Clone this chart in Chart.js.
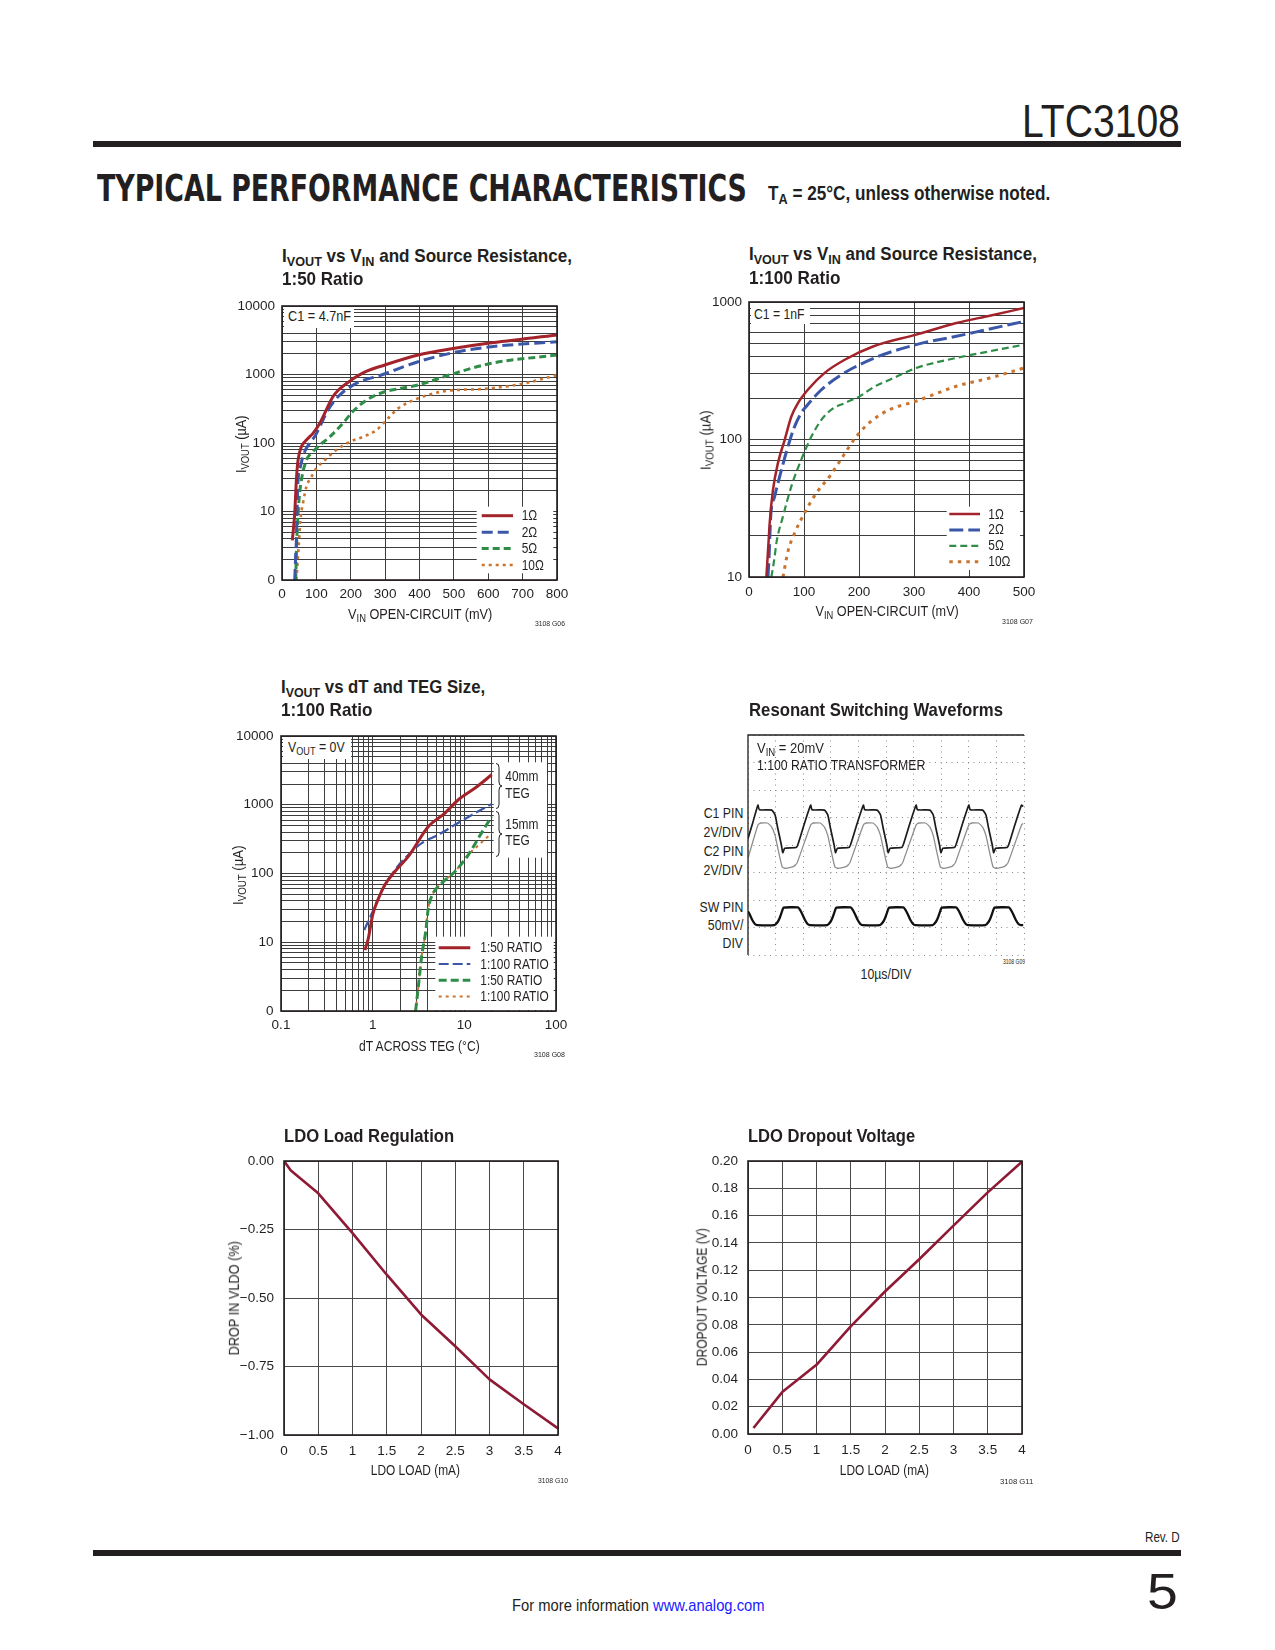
<!DOCTYPE html>
<html>
<head>
<meta charset="utf-8">
<script src="https://cdn.jsdelivr.net/npm/chart.js@4/dist/chart.umd.min.js"></script>
<style>
html,body{margin:0;padding:0;background:#fff;}
#page{position:relative;width:1275px;height:1650px;overflow:hidden;background:#fff;}
.t{position:absolute;white-space:nowrap;line-height:1;color:#231f20;font-family:"Liberation Sans",Arial,Helvetica,sans-serif;}
.t sub{font-size:0.74em;vertical-align:-0.3em;line-height:0;}
canvas{position:absolute;}
.blk{position:absolute;}
</style>
</head>
<body>
<div id="page"></div>
<script>
// ---------------- DATA ----------------
// Chart 1: IVOUT vs VIN and source resistance, 1:50 ratio
const c1Labels = ['1Ω', '2Ω', '5Ω', '10Ω'];
const c1R1Vin  = [30, 37, 41.8, 46.7, 56.4, 66, 78, 90, 110, 148, 165, 197, 240, 299, 396, 502, 599, 800];
const c1R1Iout = [3.8, 9.4, 28.8, 56, 88, 104, 120, 138, 194, 474, 600, 800, 1080, 1376, 1927, 2411, 2852, 3774];
const c1R2Vin  = [37, 39.8, 41.8, 44.6, 46.7, 53.4, 66, 80.6, 98, 114.5, 134, 163, 216, 289, 396, 512, 609, 800];
const c1R2Iout = [1, 2.3, 3.8, 15.6, 28.8, 45, 74.6, 99, 131, 194, 303, 474, 743, 984, 1538, 2154, 2546, 3015];
const c1R5Vin  = [39.8, 43, 49.5, 56.4, 71, 90, 110, 139, 177, 206, 245, 299, 342, 396, 502, 609, 800];
const c1R5Iout = [1, 3.8, 14.7, 28.8, 56, 75, 93, 123, 194, 288, 420, 560, 620, 703, 1040, 1456, 1927];
const c1R10Vin  = [41.8, 48.6, 53.4, 61, 71, 85.5, 100, 124, 158, 197, 236, 275, 313, 338, 396, 464, 609, 706, 800];
const c1R10Iout = [1, 3.1, 7.5, 13.2, 23, 32, 42.6, 56, 79, 104, 123, 155, 242, 320, 449, 561, 629, 743, 984];
const c1XTicks = [0, 100, 200, 300, 400, 500, 600, 700, 800];
const c1XTickLabels = ['0', '100', '200', '300', '400', '500', '600', '700', '800'];
const c1YTicks = [1, 10, 100, 1000, 10000];
const c1YTickLabels = ['0', '10', '100', '1000', '10000'];

// Chart 2: IVOUT vs VIN and source resistance, 1:100 ratio
const c2Labels = ['1Ω', '2Ω', '5Ω', '10Ω'];
const c2R1Vin  = [31.6, 35.8, 37.6, 43.6, 52.7, 64.9, 77, 89, 107, 137.6, 174, 225.5, 304, 377, 437.6, 500];
const c2R1Iout = [10, 18.7, 24.7, 43, 67.6, 99.5, 147, 184, 230, 305, 380, 475, 579, 703, 795, 903];
const c2R2Vin  = [34.5, 36.5, 39.5, 46.7, 58.9, 70.9, 83, 95, 104, 131.6, 168, 228.5, 304, 377, 437.6, 500];
const c2R2Iout = [10, 14, 27.6, 38.5, 60, 89, 124.5, 156, 174, 230, 296, 392, 490, 563, 637, 722];
const c2R5Vin  = [40.7, 46.7, 49.8, 61.8, 77, 95, 113.5, 131.6, 149.8, 174, 201, 228.5, 255.8, 304, 377, 437.6, 500];
const c2R5Iout = [10, 14.1, 17.7, 27.6, 45.6, 71.3, 105, 139, 165, 184, 206, 243, 272, 331, 392, 438, 490];
const c2R10Vin  = [61.8, 70.9, 83, 101, 122.4, 146.7, 170.9, 195, 222.4, 255.8, 304, 377, 437.6, 500];
const c2R10Iout = [10, 15.4, 20.9, 29.2, 40.8, 54, 75.5, 105, 136, 165, 190, 244, 280, 331];
const c2XTicks = [0, 100, 200, 300, 400, 500];
const c2XTickLabels = ['0', '100', '200', '300', '400', '500'];
const c2YTicks = [10, 100, 1000];
const c2YTickLabels = ['10', '100', '1000'];

// Chart 3: IVOUT vs dT and TEG size
const c3Labels = ['1:50 RATIO', '1:100 RATIO', '1:50 RATIO', '1:100 RATIO'];
const c3A50dT   = [0.824, 0.897, 1, 1.16, 1.36, 1.75, 2.45, 4.05, 6.15, 8.6, 13.1, 19.9];
const c3A50I    = [7.7, 11.4, 25, 43.7, 68.4, 107, 177, 483, 756, 1183, 1750, 2734];
const c3A100dT  = [0.81, 1, 1.25, 1.75, 2.45, 3.43, 5.2, 7.9, 13.1, 19.9];
const c3A100I   = [15.1, 28, 54.7, 113, 187, 277, 366, 511, 756, 1023];
const c3B50dT   = [2.94, 3.15, 3.42, 3.79, 4.05, 4.48, 5.66, 7.91, 11.06, 14.8, 19.9];
const c3B50I    = [1, 2.26, 6.2, 14.3, 31.3, 48.9, 72.3, 107, 187, 357, 676];
const c3B100dT  = [2.94, 3.15, 3.42, 3.79, 4.05, 4.48, 5.66, 7.91, 11.06, 14.8, 19.9];
const c3B100I   = [1, 2.26, 6.2, 14.3, 31.3, 48.9, 72.3, 107, 187, 270, 387];
const c3XTicks = [0.1, 1, 10, 100];
const c3XTickLabels = ['0.1', '1', '10', '100'];
const c3YTicks = [1, 10, 100, 1000, 10000];
const c3YTickLabels = ['0', '10', '100', '1000', '10000'];

// Chart 4: resonant switching waveforms (time in divisions, level in divisions)
const c4C1Time = [0, 0.17,
  0.36, 0.41, 0.86, 0.98, 1.08, 1.21, 1.26, 1.33, 1.76, 1.86, 2.05,
  2.27, 2.32, 2.77, 2.89, 2.99, 3.12, 3.17, 3.24, 3.67, 3.77, 3.96,
  4.18, 4.23, 4.68, 4.80, 4.90, 5.03, 5.08, 5.15, 5.58, 5.68, 5.87,
  6.09, 6.14, 6.59, 6.71, 6.81, 6.94, 6.99, 7.06, 7.49, 7.59, 7.78,
  8.00, 8.05, 8.50, 8.62, 8.72, 8.85, 8.90, 8.97, 9.40, 9.50, 9.69,
  9.91, 9.97];
const c4C1Div = [4.24, 4.80,
  5.45, 5.28, 5.27, 5.10, 4.60, 4.00, 3.72, 3.88, 3.92, 4.18, 4.80,
  5.45, 5.28, 5.27, 5.10, 4.60, 4.00, 3.72, 3.88, 3.92, 4.18, 4.80,
  5.45, 5.28, 5.27, 5.10, 4.60, 4.00, 3.72, 3.88, 3.92, 4.18, 4.80,
  5.45, 5.28, 5.27, 5.10, 4.60, 4.00, 3.72, 3.88, 3.92, 4.18, 4.80,
  5.45, 5.28, 5.27, 5.10, 4.60, 4.00, 3.72, 3.88, 3.92, 4.18, 4.80,
  5.45, 5.40];
const c4C2Time = [0,
  0.36, 0.46, 0.71, 0.86, 0.98, 1.11, 1.24, 1.36, 1.66, 1.78,
  2.27, 2.37, 2.62, 2.77, 2.89, 3.02, 3.15, 3.27, 3.57, 3.69,
  4.18, 4.28, 4.53, 4.68, 4.80, 4.93, 5.06, 5.18, 5.48, 5.60,
  6.09, 6.19, 6.44, 6.59, 6.71, 6.84, 6.97, 7.09, 7.39, 7.51,
  8.00, 8.10, 8.35, 8.50, 8.62, 8.75, 8.88, 9.00, 9.30, 9.42,
  9.91, 9.97];
const c4C2Div = [3.52,
  4.73, 4.80, 4.80, 4.65, 4.35, 3.75, 3.20, 3.15, 3.22, 3.35,
  4.73, 4.80, 4.80, 4.65, 4.35, 3.75, 3.20, 3.15, 3.22, 3.35,
  4.73, 4.80, 4.80, 4.65, 4.35, 3.75, 3.20, 3.15, 3.22, 3.35,
  4.73, 4.80, 4.80, 4.65, 4.35, 3.75, 3.20, 3.15, 3.22, 3.35,
  4.73, 4.80, 4.80, 4.65, 4.35, 3.75, 3.20, 3.15, 3.22, 3.35,
  4.73, 4.78];
const c4SWTime = [0, 0.05, 0.15, 0.25, 0.33,
  0.96, 1.06, 1.14, 1.22, 1.29, 1.81, 1.88, 1.96, 2.06, 2.16, 2.24,
  2.87, 2.97, 3.05, 3.13, 3.20, 3.72, 3.79, 3.87, 3.97, 4.07, 4.15,
  4.78, 4.88, 4.96, 5.04, 5.11, 5.63, 5.70, 5.78, 5.88, 5.98, 6.06,
  6.69, 6.79, 6.87, 6.95, 7.02, 7.54, 7.61, 7.69, 7.79, 7.89, 7.97,
  8.60, 8.70, 8.78, 8.86, 8.93, 9.45, 9.52, 9.60, 9.70, 9.80, 9.88,
  9.97];
const c4SWDiv = [1.58, 1.50, 1.28, 1.13, 1.09,
  1.09, 1.18, 1.33, 1.55, 1.72, 1.73, 1.65, 1.50, 1.28, 1.13, 1.09,
  1.09, 1.18, 1.33, 1.55, 1.72, 1.73, 1.65, 1.50, 1.28, 1.13, 1.09,
  1.09, 1.18, 1.33, 1.55, 1.72, 1.73, 1.65, 1.50, 1.28, 1.13, 1.09,
  1.09, 1.18, 1.33, 1.55, 1.72, 1.73, 1.65, 1.50, 1.28, 1.13, 1.09,
  1.09, 1.18, 1.33, 1.55, 1.72, 1.73, 1.65, 1.50, 1.28, 1.13, 1.09,
  1.09];
const c4XDivs = [0, 1, 2, 3, 4, 5, 6, 7, 8, 9, 10];
const c4YDivs = [0, 1, 2, 3, 4, 5, 6, 7, 8];

// Chart 5: LDO load regulation
const c5Load = [0, 0.1, 0.5, 1, 1.5, 2, 2.5, 3, 3.5, 4];
const c5Drop = [0, -0.035, -0.118, -0.263, -0.415, -0.56, -0.676, -0.797, -0.888, -0.976];
const c5XTicks = [0, 0.5, 1, 1.5, 2, 2.5, 3, 3.5, 4];
const c5XTickLabels = ['0', '0.5', '1', '1.5', '2', '2.5', '3', '3.5', '4'];
const c5YTicks = [-1, -0.75, -0.5, -0.25, 0];
const c5YTickLabels = ['\u22121.00', '\u22120.75', '\u22120.50', '\u22120.25', '0.00'];

// Chart 6: LDO dropout voltage
const c6Load = [0.08, 0.5, 1, 1.5, 2, 2.5, 3, 3.5, 4];
const c6Dropout = [0.0044, 0.0307, 0.0507, 0.0788, 0.1044, 0.128, 0.1527, 0.177, 0.1995];
const c6XTicks = [0, 0.5, 1, 1.5, 2, 2.5, 3, 3.5, 4];
const c6XTickLabels = ['0', '0.5', '1', '1.5', '2', '2.5', '3', '3.5', '4'];
const c6YTicks = [0, 0.02, 0.04, 0.06, 0.08, 0.10, 0.12, 0.14, 0.16, 0.18, 0.20];
const c6YTickLabels = ['0.00', '0.02', '0.04', '0.06', '0.08', '0.10', '0.12', '0.14', '0.16', '0.18', '0.20'];

// ---------------- STYLE ----------------
const SANS = '"Liberation Sans",Arial,Helvetica,sans-serif';
const INK = '#231f20';
const RED = '#a3232b', BLUE = '#3b57a8', GREEN = '#2f8d48', ORANGE = '#c9742f', MAROON = '#8e1a36';
const COND = 0.82; // horizontal compression to mimic a condensed face
Chart.defaults.font.family = SANS;
Chart.defaults.color = INK;

const page = document.getElementById('page');

function zip(xs, ys) { return xs.map((x, i) => ({ x: x, y: ys[i] })); }
function logGrid(e0, e1) {
  const out = [];
  for (let e = e0; e < e1; e++) for (let k = 1; k < 10; k++) out.push(k * Math.pow(10, e));
  out.push(Math.pow(10, e1));
  return out;
}
function near(a, b) { return Math.abs(a - b) <= 1e-9 * Math.max(1, Math.abs(a), Math.abs(b)); }

function axis(o) {
  const horiz = (o.pos === 'bottom' || o.pos === 'top');
  return {
    type: o.type, position: o.pos, min: o.min, max: o.max,
    afterBuildTicks: s => { s.ticks = o.grid.map(v => ({ value: v })); },
    afterFit: s => { if (horiz) s.height = o.fit; else s.width = o.fit; },
    ticks: {
      display: o.showTicks !== false, autoSkip: false, maxRotation: 0, minRotation: 0,
      padding: o.pad, font: { size: o.fs || 13.5 }, color: INK,
      callback: v => { const i = (o.tv || []).findIndex(t => near(t, v)); return i >= 0 ? o.tl[i] : ''; }
    },
    grid: { color: o.gc || '#3d3d3d', lineWidth: 1, drawTicks: false, borderDash: o.dash || [] },
    border: { display: false, dash: o.dash || [] }
  };
}

function condText(ctx, s, x, y, size) {
  ctx.save();
  ctx.font = size + 'px ' + SANS;
  ctx.textBaseline = 'middle'; ctx.textAlign = 'left'; ctx.fillStyle = INK;
  ctx.translate(x, y); ctx.scale(COND, 1);
  ctx.fillText(s, 0, 0);
  ctx.restore();
}

function makeAnnot(spec) {
  return {
    id: 'annot',
    beforeDatasetsDraw(chart) {
      const ctx = chart.ctx;
      ctx.save();
      ctx.fillStyle = '#fff';
      (spec.boxes || []).forEach(b => ctx.fillRect(b[0] - spec.ox, b[1] - spec.oy, b[2] - b[0], b[3] - b[1]));
      ctx.restore();
    },
    afterDatasetsDraw(chart) {
      const ctx = chart.ctx, a = chart.chartArea, ox = spec.ox, oy = spec.oy;
      ctx.save();
      ctx.strokeStyle = INK; ctx.lineWidth = spec.frameW || 1.6; ctx.setLineDash([]);
      if (spec.frame === 'box') ctx.strokeRect(a.left, a.top, a.right - a.left, a.bottom - a.top);
      if (spec.frame === 'tl') {
        ctx.beginPath(); ctx.moveTo(a.left, a.bottom); ctx.lineTo(a.left, a.top); ctx.lineTo(a.right, a.top); ctx.stroke();
      }
      if (spec.legend) {
        const L = spec.legend;
        chart.data.datasets.forEach((ds, i) => {
          const y = L.y0 + i * L.dy - oy;
          ctx.beginPath();
          ctx.strokeStyle = ds.borderColor; ctx.lineWidth = ds.borderWidth;
          ctx.setLineDash(ds.borderDash || []);
          ctx.lineCap = 'butt';
          ctx.moveTo(L.x0 - ox, y); ctx.lineTo(L.x1 - ox, y); ctx.stroke();
          ctx.setLineDash([]);
          condText(ctx, ds.label, L.tx - ox, y + 0.5, 14.5);
        });
      }
      ctx.strokeStyle = INK; ctx.lineWidth = 1; ctx.setLineDash([]);
      (spec.braces || []).forEach(b => {
        const x = b[0] - ox, y0 = b[1] - oy, y1 = b[2] - oy, w = b[3];
        const ym = (y0 + y1) / 2, xm = x + w / 2, r = 4;
        ctx.beginPath();
        ctx.moveTo(x, y0);
        ctx.quadraticCurveTo(xm, y0, xm, y0 + r);
        ctx.lineTo(xm, ym - r);
        ctx.quadraticCurveTo(xm, ym, x + w, ym);
        ctx.quadraticCurveTo(xm, ym, xm, ym + r);
        ctx.lineTo(xm, y1 - r);
        ctx.quadraticCurveTo(xm, y1, x, y1);
        ctx.stroke();
      });
      (spec.texts || []).forEach(t => condText(ctx, t[0], t[1] - ox, t[2] - oy + 0.5, 14.5));
      ctx.restore();
    }
  };
}

function mk(plot, pad, data, scales, spec) {
  const c = document.createElement('canvas');
  const W = plot.R - plot.L + pad.l + pad.r, H = plot.B - plot.T + pad.t + pad.b;
  c.width = W; c.height = H;
  c.style.left = (plot.L - pad.l) + 'px'; c.style.top = (plot.T - pad.t) + 'px';
  c.style.width = W + 'px'; c.style.height = H + 'px';
  page.appendChild(c);
  spec.ox = plot.L - pad.l; spec.oy = plot.T - pad.t;
  return new Chart(c.getContext('2d'), {
    type: 'line',
    data: data,
    options: {
      responsive: false, animation: false, devicePixelRatio: 1, events: [],
      layout: { padding: { top: pad.t, right: pad.r, left: 0, bottom: 0 } },
      plugins: { legend: { display: false }, tooltip: { enabled: false } },
      elements: { point: { radius: 0 }, line: { cubicInterpolationMode: 'monotone', borderCapStyle: 'butt', borderJoinStyle: 'round' } },
      scales: scales
    },
    plugins: [makeAnnot(spec)]
  });
}
function ds(label, xs, ys, color, width, dash) {
  return { label: label, data: zip(xs, ys), borderColor: color, borderWidth: width, borderDash: dash || [], fill: false, pointRadius: 0 };
}
const PAD = { l: 60, t: 30, r: 30, b: 30 };
const PAD2 = { l: 70, t: 30, r: 30, b: 30 };

// ---------------- CHART 1 ----------------
mk({ L: 282, T: 306, R: 557, B: 580 }, PAD,
  { datasets: [
    ds(c1Labels[0], c1R1Vin, c1R1Iout, RED, 3),
    ds(c1Labels[1], c1R2Vin, c1R2Iout, BLUE, 3, [11, 5]),
    ds(c1Labels[2], c1R5Vin, c1R5Iout, GREEN, 3, [7, 4]),
    ds(c1Labels[3], c1R10Vin, c1R10Iout, ORANGE, 2.6, [3, 4])
  ] },
  {
    x: axis({ type: 'linear', pos: 'bottom', min: 0, max: 800, grid: c1XTicks, tv: c1XTicks, tl: c1XTickLabels, fit: 30, pad: 6 }),
    y: axis({ type: 'logarithmic', pos: 'left', min: 1, max: 10000, grid: logGrid(0, 4), tv: c1YTicks, tl: c1YTickLabels, fit: 60, pad: 7 })
  },
  { frame: 'box', boxes: [[476.7, 506.7, 553.3, 573.3]],
    legend: { y0: 515.7, dy: 16.45, x0: 481.7, x1: 513, tx: 521.7 } });

// ---------------- CHART 2 ----------------
mk({ L: 749, T: 302, R: 1024, B: 577 }, PAD,
  { datasets: [
    ds(c2Labels[0], c2R1Vin, c2R1Iout, RED, 2.5),
    ds(c2Labels[1], c2R2Vin, c2R2Iout, BLUE, 3, [14, 5]),
    ds(c2Labels[2], c2R5Vin, c2R5Iout, GREEN, 2.2, [7, 4]),
    ds(c2Labels[3], c2R10Vin, c2R10Iout, ORANGE, 3, [3.5, 5])
  ] },
  {
    x: axis({ type: 'linear', pos: 'bottom', min: 0, max: 500, grid: c2XTicks, tv: c2XTicks, tl: c2XTickLabels, fit: 30, pad: 7.5 }),
    y: axis({ type: 'logarithmic', pos: 'left', min: 10, max: 1000, grid: logGrid(1, 3), tv: c2YTicks, tl: c2YTickLabels, fit: 60, pad: 7 })
  },
  { frame: 'box', boxes: [[946.7, 506.7, 1020, 570]],
    legend: { y0: 514, dy: 15.9, x0: 949.3, x1: 980, tx: 988.3 } });

// ---------------- CHART 3 ----------------
mk({ L: 281, T: 736, R: 556, B: 1011 }, PAD,
  { datasets: [
    ds(c3Labels[0], c3A50dT, c3A50I, RED, 3),
    ds(c3Labels[1], c3A100dT, c3A100I, BLUE, 2.2, [10, 4]),
    ds(c3Labels[2], c3B50dT, c3B50I, GREEN, 3, [8, 4]),
    ds(c3Labels[3], c3B100dT, c3B100I, ORANGE, 2, [3, 4])
  ] },
  {
    x: axis({ type: 'logarithmic', pos: 'bottom', min: 0.1, max: 100, grid: logGrid(-1, 2), tv: c3XTicks, tl: c3XTickLabels, fit: 30, pad: 6.5 }),
    y: axis({ type: 'logarithmic', pos: 'left', min: 1, max: 10000, grid: logGrid(0, 4), tv: c3YTicks, tl: c3YTickLabels, fit: 60, pad: 7.5 })
  },
  { frame: 'box', boxes: [[435.3, 936.7, 553.7, 1010], [493.7, 762.3, 547, 857.7]],
    legend: { y0: 947.7, dy: 16.3, x0: 438.7, x1: 470.3, tx: 480.3 },
    braces: [[496, 763.5, 808.5, 6], [496, 811.5, 856.5, 6]],
    texts: [['40mm', 505.3, 776.7], ['TEG', 505.3, 793.3], ['15mm', 505.3, 824], ['TEG', 505.3, 840.7]] });

// ---------------- CHART 4 ----------------
mk({ L: 748, T: 735, R: 1024, B: 955 }, { l: 2, t: 4, r: 4, b: 2 },
  { datasets: [
    Object.assign(ds('C1 PIN', c4C1Time, c4C1Div, '#1c1c1c', 1.7), { cubicInterpolationMode: 'default', tension: 0.15 }),
    Object.assign(ds('C2 PIN', c4C2Time, c4C2Div, '#8d8d8d', 1.3), { cubicInterpolationMode: 'default', tension: 0.15 }),
    Object.assign(ds('SW PIN', c4SWTime, c4SWDiv, '#111111', 2.3), { cubicInterpolationMode: 'default', tension: 0.15 })
  ] },
  {
    x: axis({ type: 'linear', pos: 'bottom', min: 0, max: 10, grid: c4XDivs, showTicks: false, fit: 2, pad: 0, gc: '#8a8a8a', dash: [1, 4.5] }),
    y: axis({ type: 'linear', pos: 'left', min: 0, max: 8, grid: c4YDivs, showTicks: false, fit: 2, pad: 0, gc: '#8a8a8a', dash: [1, 4.5] })
  },
  { frame: 'tl', frameW: 1.3 });

// ---------------- CHART 5 ----------------
mk({ L: 284, T: 1161, R: 558, B: 1435 }, PAD2,
  { datasets: [ Object.assign(ds('LDO', c5Load, c5Drop, MAROON, 2.6), { cubicInterpolationMode: 'default', tension: 0 }) ] },
  {
    x: axis({ type: 'linear', pos: 'bottom', min: 0, max: 4, grid: c5XTicks, tv: c5XTicks, tl: c5XTickLabels, fit: 30, pad: 8, gc: '#4a4a4a' }),
    y: axis({ type: 'linear', pos: 'left', min: -1, max: 0, grid: c5YTicks, tv: c5YTicks, tl: c5YTickLabels, fit: 70, pad: 10, gc: '#4a4a4a' })
  },
  { frame: 'box' });

// ---------------- CHART 6 ----------------
mk({ L: 748, T: 1161, R: 1022, B: 1434 }, PAD2,
  { datasets: [ Object.assign(ds('Dropout', c6Load, c6Dropout, MAROON, 2.6), { cubicInterpolationMode: 'default', tension: 0 }) ] },
  {
    x: axis({ type: 'linear', pos: 'bottom', min: 0, max: 4, grid: c6XTicks, tv: c6XTicks, tl: c6XTickLabels, fit: 30, pad: 8, gc: '#4a4a4a' }),
    y: axis({ type: 'linear', pos: 'left', min: 0, max: 0.2, grid: c6YTicks, tv: c6YTicks, tl: c6YTickLabels, fit: 70, pad: 10, gc: '#4a4a4a' })
  },
  { frame: 'box' });

// ---------------- HTML TEXT ----------------
function blk(x0, y0, x1, y1, color) {
  const d = document.createElement('div'); d.className = 'blk';
  d.style.left = x0 + 'px'; d.style.top = y0 + 'px';
  d.style.width = (x1 - x0) + 'px'; d.style.height = (y1 - y0) + 'px';
  d.style.background = color; page.appendChild(d); return d;
}
function txt(html, x, cy, size, o) {
  o = o || {};
  const d = document.createElement('div');
  d.className = 't'; d.innerHTML = html;
  d.style.fontSize = size + 'px';
  if (o.bold) d.style.fontWeight = 'bold';
  if (o.family) d.style.fontFamily = o.family;
  if (o.color) d.style.color = o.color;
  page.appendChild(d);
  const w = d.offsetWidth;
  const sx = o.w ? o.w / w : (o.sx || COND);
  d.style.top = (cy - size / 2) + 'px';
  if (o.rot) {
    d.style.left = (x - w / 2) + 'px';
    d.style.transformOrigin = 'center center';
    d.style.transform = 'rotate(-90deg) scaleX(' + sx + ')';
    return d;
  }
  const align = o.align || 'left';
  const left = align === 'left' ? x : (align === 'right' ? x - w : x - w / 2);
  d.style.left = left + 'px';
  d.style.transformOrigin = align === 'left' ? 'left center' : (align === 'right' ? 'right center' : 'center center');
  d.style.transform = 'scaleX(' + sx + ')';
  return d;
}

// header / footer
txt('LTC3108', 1180, 120, 47, { align: 'right', w: 158 });
blk(93, 141, 1181, 147, INK);
txt('TYPICAL PERFORMANCE CHARACTERISTICS', 97, 188.5, 37.5, { bold: true, family: '"DejaVu Sans Condensed","DejaVu Sans",sans-serif', w: 650 });
txt('T<sub>A</sub> = 25°C, unless otherwise noted.', 768, 192.5, 20, { bold: true, w: 282 });
txt('Rev. D', 1180, 1536.5, 14, { align: 'right', w: 35 });
blk(93, 1550, 1181, 1556, INK);
txt('5', 1178.4, 1592, 50, { align: 'right', w: 31 });
txt('For more information <span style="color:#1a1aff">www.analog.com</span>', 512.3, 1605, 17, { w: 252.5 });

// chart titles
const TS = 18.5;
txt('I<sub>VOUT</sub> vs V<sub>IN</sub> and Source Resistance,', 281.5, 256.7, TS, { bold: true, w: 290 });
txt('1:50 Ratio', 282, 279.2, TS, { bold: true, w: 81 });
txt('I<sub>VOUT</sub> vs V<sub>IN</sub> and Source Resistance,', 749, 254.5, TS, { bold: true, w: 288 });
txt('1:100 Ratio', 749, 277.8, TS, { bold: true, w: 91.7 });
txt('I<sub>VOUT</sub> vs dT and TEG Size,', 281, 687.5, TS, { bold: true, w: 204 });
txt('1:100 Ratio', 281, 710.5, TS, { bold: true, w: 91.7 });
txt('Resonant Switching Waveforms', 749.3, 710.5, TS, { bold: true, w: 254 });
txt('LDO Load Regulation', 284.3, 1136.3, TS, { bold: true, w: 170 });
txt('LDO Dropout Voltage', 748.3, 1136.3, TS, { bold: true, w: 167.4 });

// axis titles
const AS = 14.5;
txt('V<sub>IN</sub> OPEN-CIRCUIT (mV)', 420, 614, AS, { align: 'center', w: 144 });
txt('I<sub>VOUT</sub> (µA)', 240.5, 444, AS, { rot: true, w: 58 });
txt('V<sub>IN</sub> OPEN-CIRCUIT (mV)', 886.7, 611, AS, { align: 'center', w: 143 });
txt('I<sub>VOUT</sub> (µA)', 705.5, 440, AS, { rot: true, w: 60 });
txt('dT ACROSS TEG (°C)', 419.5, 1046, AS, { align: 'center', w: 121 });
txt('I<sub>VOUT</sub> (µA)', 238, 875, AS, { rot: true, w: 60 });
txt('LDO LOAD (mA)', 415.5, 1470.5, AS, { align: 'center' });
txt('DROP IN VLDO (%)', 233.5, 1298, AS, { rot: true, w: 114 });
txt('LDO LOAD (mA)', 884.5, 1470.5, AS, { align: 'center' });
txt('DROPOUT VOLTAGE (V)', 701.5, 1297, AS, { rot: true, w: 138 });

// in-plot notes
blk(283.5, 307, 353.5, 327.5, '#fff');
txt('C1 = 4.7nF', 288.3, 316.7, AS, { w: 63 });
blk(750.5, 303, 810, 324, '#fff');
txt('C1 = 1nF', 754.3, 314, AS, { w: 50.5 });
blk(282.5, 737, 350.5, 758.5, '#fff');
txt('V<sub>OUT</sub> = 0V', 287.7, 747, AS, { w: 57 });
txt('V<sub>IN</sub> = 20mV', 756.7, 748, AS, { w: 67 });
txt('1:100 RATIO TRANSFORMER', 756.7, 765.5, AS, { w: 168 });

// scope side labels
const scopeLabels = [['C1 PIN', 812], ['2V/DIV', 831.3], ['C2 PIN', 850.3], ['2V/DIV', 869.7], ['SW PIN', 906.2], ['50mV/', 924.5], ['DIV', 942.8]];
scopeLabels.forEach(s => txt(s[0], 743.3, s[1], 15, { align: 'right' }));
txt('10µs/DIV', 886, 973, 15, { align: 'center' });

// figure codes
const CS = 7.5;
txt('3108 G06', 565, 624, CS, { align: 'right', w: 30 });
txt('3108 G07', 1033, 621.7, CS, { align: 'right', w: 31 });
txt('3108 G08', 565, 1054.7, CS, { align: 'right', w: 31 });
txt('3108 G09', 1025, 961.8, CS, { align: 'right', w: 22 });
txt('3108 G10', 568, 1480.5, CS, { align: 'right', w: 30 });
txt('3108 G11', 1033, 1481.7, CS, { align: 'right', w: 33 });
</script>
</body>
</html>
